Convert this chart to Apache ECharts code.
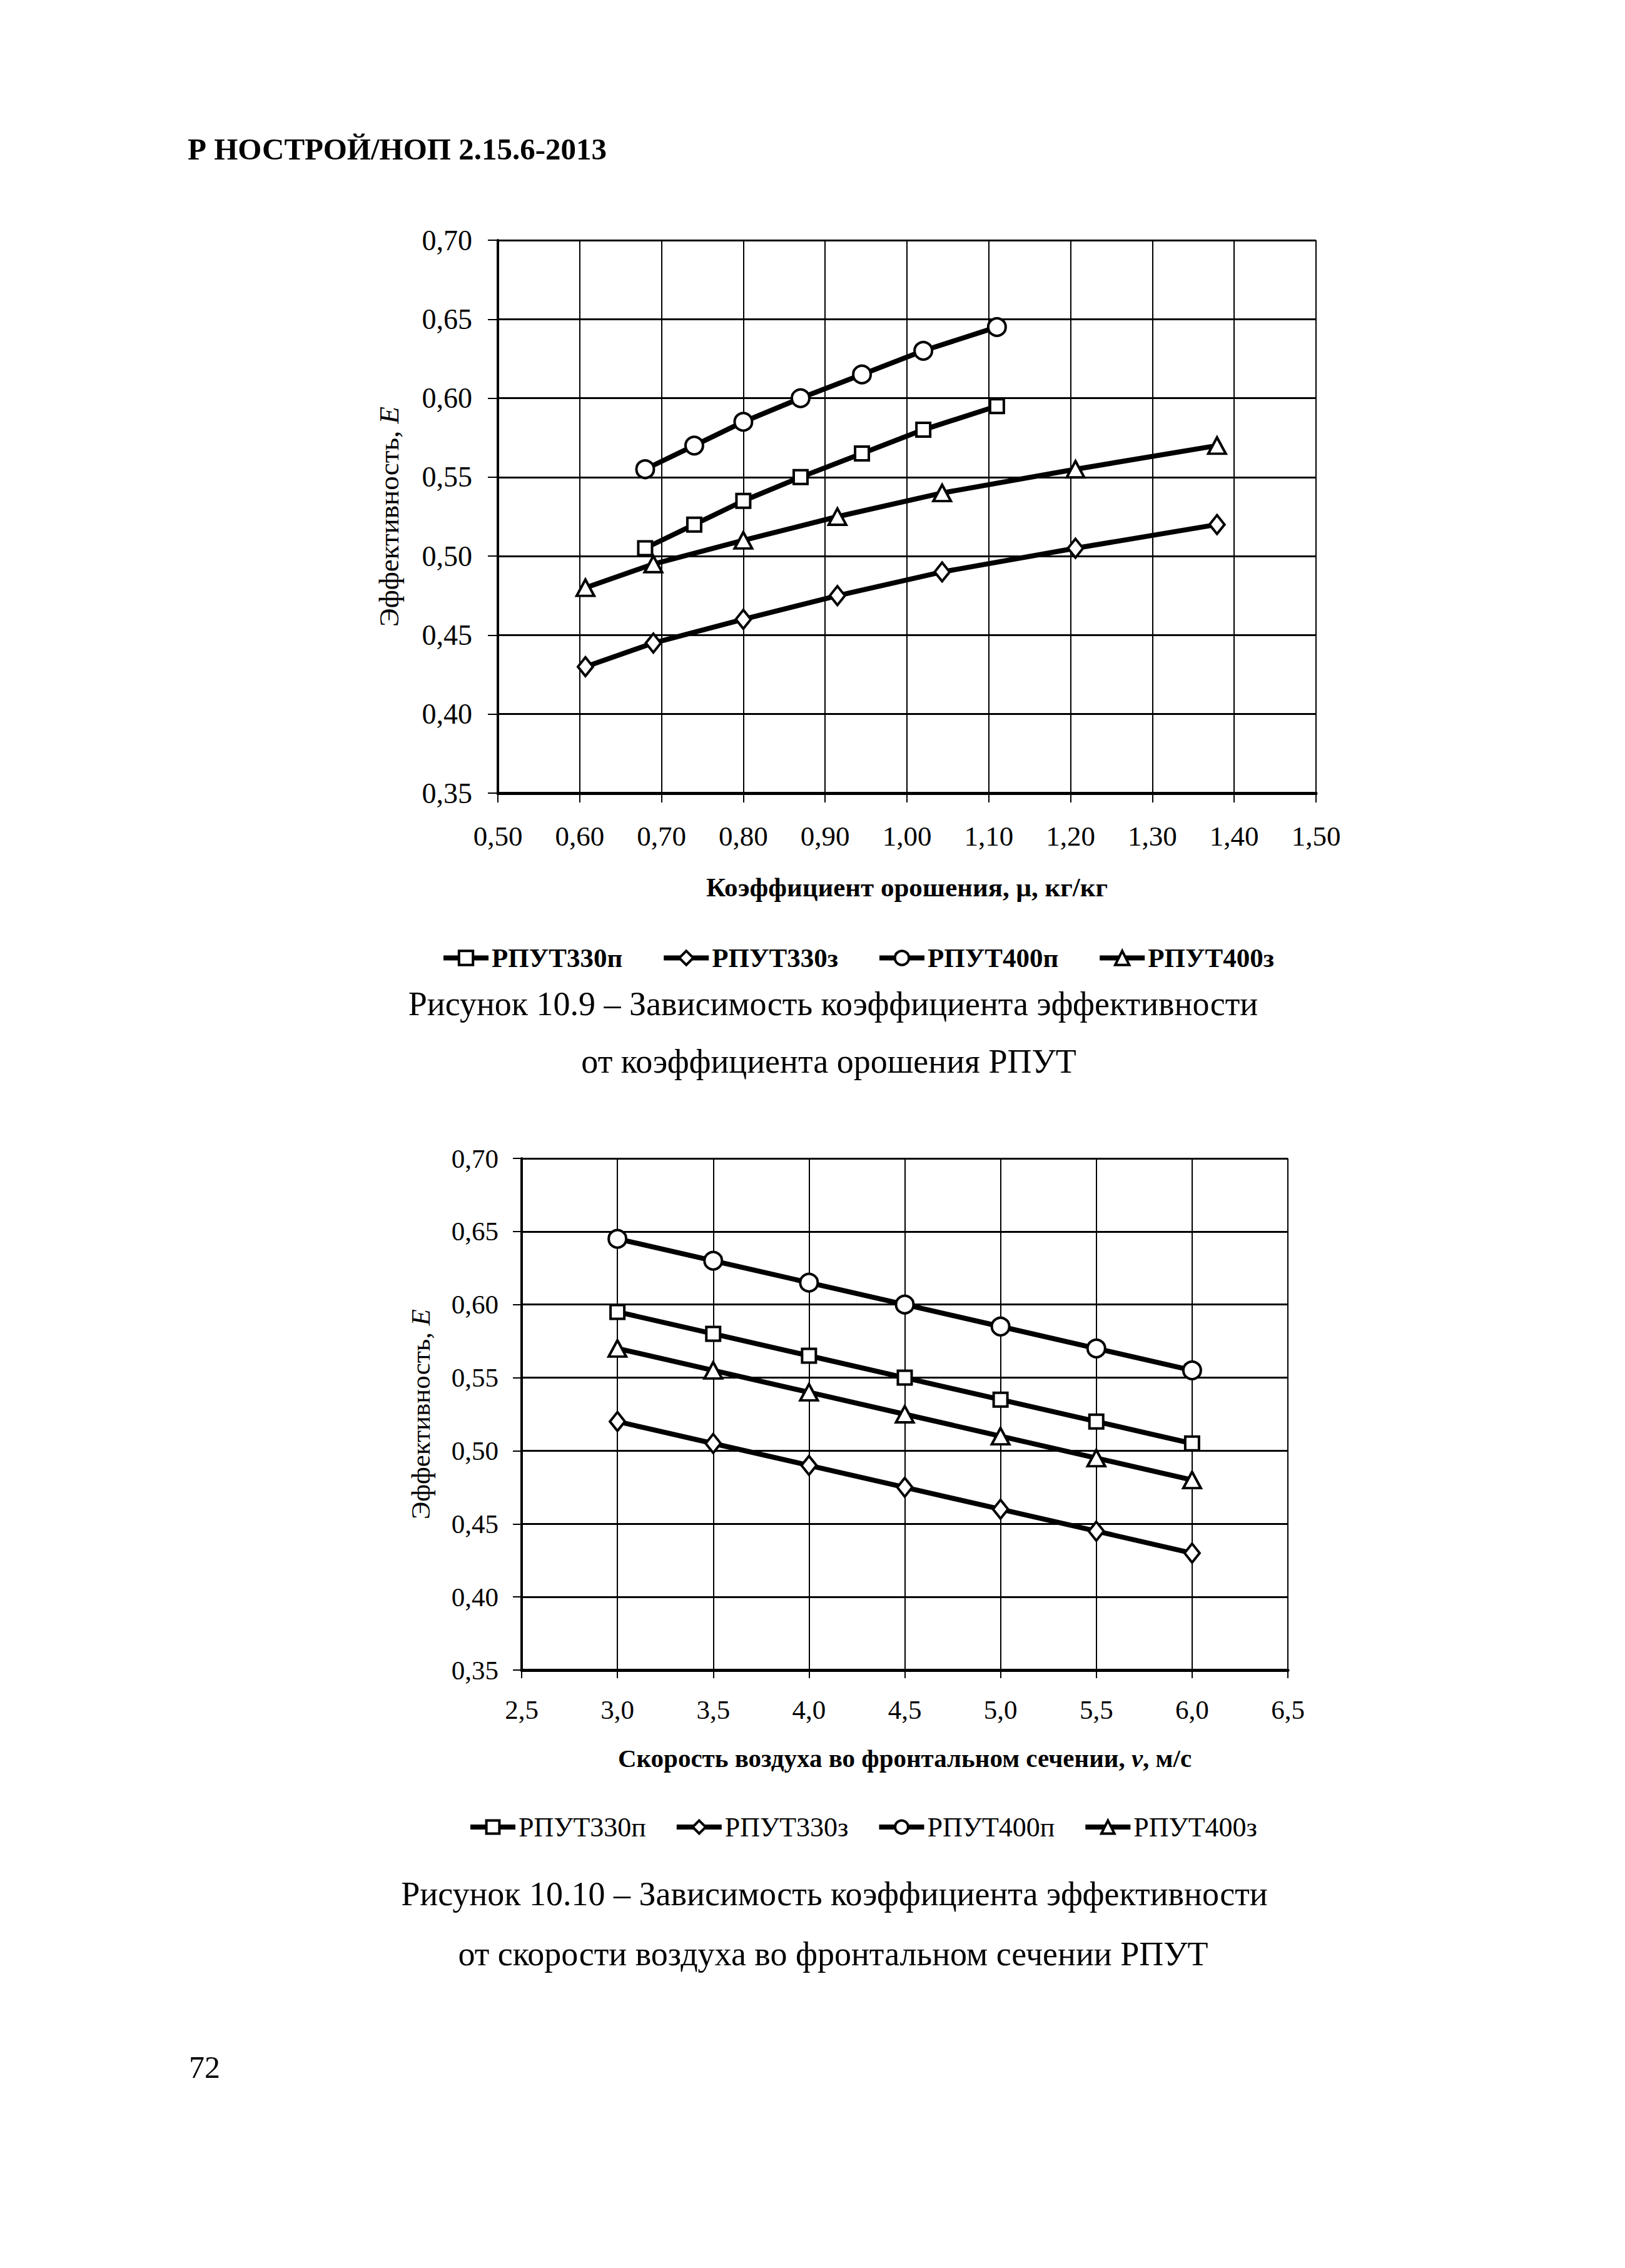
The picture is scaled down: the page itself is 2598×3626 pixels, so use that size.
<!DOCTYPE html>
<html>
<head>
<meta charset="utf-8">
<script src="https://cdn.jsdelivr.net/npm/echarts/dist/echarts.min.js"></script>
<style>
html,body{margin:0;padding:0;background:#fff;}
#c{width:2598px;height:3626px;}
</style>
</head>
<body>
<div id="c"></div>
<script>
// ---------- data ----------
const seriesNames = ['РПУТ330п', 'РПУТ330з', 'РПУТ400п', 'РПУТ400з'];

// Figure 10.9: efficiency vs irrigation coefficient
const muSummer = [0.68, 0.74, 0.80, 0.87, 0.945, 1.02, 1.11];      // for 330п, 400п
const muWinter = [0.607, 0.69, 0.80, 0.915, 1.043, 1.206, 1.379]; // for 330з, 400з
const eff330p_mu = [0.505, 0.52, 0.535, 0.55, 0.565, 0.58, 0.595];
const eff330z_mu = [0.43, 0.445, 0.46, 0.475, 0.49, 0.505, 0.52];
const eff400p_mu = [0.555, 0.57, 0.585, 0.60, 0.615, 0.63, 0.645];
const eff400z_mu = [0.48, 0.495, 0.51, 0.525, 0.54, 0.555, 0.57];

// Figure 10.10: efficiency vs air velocity
const velocity = [3.0, 3.5, 4.0, 4.5, 5.0, 5.5, 6.0];
const eff330p_v = [0.595, 0.58, 0.565, 0.55, 0.535, 0.52, 0.505];
const eff330z_v = [0.52, 0.505, 0.49, 0.475, 0.46, 0.445, 0.43];
const eff400p_v = [0.645, 0.63, 0.615, 0.60, 0.585, 0.57, 0.555];
const eff400z_v = [0.57, 0.555, 0.54, 0.525, 0.51, 0.495, 0.48];

// axis ranges
const muAxis = {min: 0.5, max: 1.5, interval: 0.1};
const vAxis = {min: 2.5, max: 6.5, interval: 0.5};
const effAxis = {min: 0.35, max: 0.70, interval: 0.05};

// texts
const headerText = 'Р НОСТРОЙ/НОП 2.15.6-2013';
const yName = 'Эффективность, {i|E}';
const xName1 = 'Коэффициент орошения, μ, кг/кг';
const xName2 = 'Скорость воздуха во фронтальном сечении, {i|v}, м/с';
const cap1a = 'Рисунок 10.9 – Зависимость коэффициента эффективности';
const cap1b = 'от коэффициента орошения РПУТ';
const cap2a = 'Рисунок 10.10 – Зависимость коэффициента эффективности';
const cap2b = 'от скорости воздуха во фронтальном сечении РПУТ';
const pageNo = '72';

// ---------- chart ----------
const FONT = '"Liberation Serif", "Times New Roman", serif';
const zip = (xs, ys) => xs.map((x, i) => [x, ys[i]]);
const comma = d => v => v.toFixed(d).replace('.', ',');

const symbols = {
  'РПУТ330п': {symbol: 'rect', size: 22},
  'РПУТ330з': {symbol: 'diamond', size: [24, 30]},
  'РПУТ400п': {symbol: 'circle', size: 28},
  'РПУТ400з': {symbol: 'triangle', size: [28, 26]}
};

function mkSeries(name, data, idx) {
  return {
    type: 'line', name: name, data: data,
    xAxisIndex: idx, yAxisIndex: idx,
    symbol: symbols[name].symbol, symbolSize: symbols[name].size,
    showAllSymbol: true,
    lineStyle: {color: '#000', width: 8},
    itemStyle: {color: '#fff', borderColor: '#000', borderWidth: 4},
    emphasis: {disabled: true},
    z: 5
  };
}

function mkX(idx, rng, digits, labelSize, margin, name, nameGap, nameSize, tickLen) {
  return {
    type: 'value', gridIndex: idx, min: rng.min, max: rng.max, interval: rng.interval,
    axisLine: {show: true, onZero: false, lineStyle: {color: '#000', width: 5}},
    axisTick: {show: true, length: tickLen, lineStyle: {color: '#000', width: 2}},
    splitLine: {show: true, lineStyle: {color: '#000', width: 2}},
    axisLabel: {color: '#000', fontFamily: FONT, fontSize: labelSize, margin: margin,
      formatter: comma(digits), showMinLabel: true, showMaxLabel: true},
    name: name, nameLocation: 'middle', nameGap: nameGap,
    nameTextStyle: {color: '#000', fontFamily: FONT, fontSize: nameSize, fontWeight: 'bold',
      rich: {i: {fontFamily: FONT, fontSize: nameSize, fontWeight: 'bold', fontStyle: 'italic', color: '#000'}}}
  };
}

function mkY(idx, labelSize, margin, nameGap, nameSize, tickLen) {
  return {
    type: 'value', gridIndex: idx, min: effAxis.min, max: effAxis.max, interval: effAxis.interval,
    axisLine: {show: true, lineStyle: {color: '#000', width: 4}},
    axisTick: {show: true, length: tickLen, lineStyle: {color: '#000', width: 2}},
    splitLine: {show: true, lineStyle: {color: '#000', width: 3}},
    axisLabel: {color: '#000', fontFamily: FONT, fontSize: labelSize, margin: margin,
      formatter: comma(2), showMinLabel: true, showMaxLabel: true},
    name: yName, nameLocation: 'middle', nameGap: nameGap, nameRotate: 90,
    nameTextStyle: {color: '#000', fontFamily: FONT, fontSize: nameSize,
      rich: {i: {fontFamily: FONT, fontSize: nameSize, fontStyle: 'italic', color: '#000'}}}
  };
}

function txt(text, x, y, size, opts) {
  opts = opts || {};
  const align = opts.align || 'center';
  return {
    type: 'text', x: x, y: y, silent: true,
    style: {
      text: text, fill: '#000', fontFamily: FONT, fontSize: size,
      fontWeight: opts.bold ? 'bold' : 'normal',
      align: align, verticalAlign: 'middle',
      textAlign: align, textVerticalAlign: 'middle'
    }
  };
}

const legendCommon = {
  data: seriesNames, itemWidth: 72, selectedMode: false,
  lineStyle: {width: 8, color: '#000'},
  itemStyle: {color: '#fff', borderColor: '#000', borderWidth: 4}
};

const chart = echarts.init(document.getElementById('c'), null, {renderer: 'svg'});
chart.setOption({
  animation: false,
  backgroundColor: '#fff',
  grid: [
    {left: 796, top: 384, width: 1308, height: 884},
    {left: 834, top: 1852, width: 1225, height: 818}
  ],
  xAxis: [
    mkX(0, muAxis, 2, 45, 46, xName1, 129, 43, 15),
    mkX(1, vAxis, 1, 43, 42, xName2, 120, 41, 13)
  ],
  yAxis: [
    mkY(0, 46, 41, 152, 45, 16),
    mkY(1, 43, 37, 140, 43, 14)
  ],
  legend: [
    Object.assign({}, legendCommon, {left: 700, top: 1505, itemHeight: 28, itemGap: 62,
      textStyle: {color: '#000', fontFamily: FONT, fontSize: 43, fontWeight: 'bold'}}),
    Object.assign({}, legendCommon, {left: 743, top: 2894, itemHeight: 26, itemGap: 45,
      textStyle: {color: '#000', fontFamily: FONT, fontSize: 44}})
  ],
  series: [
    mkSeries('РПУТ330п', zip(muSummer, eff330p_mu), 0),
    mkSeries('РПУТ330з', zip(muWinter, eff330z_mu), 0),
    mkSeries('РПУТ400п', zip(muSummer, eff400p_mu), 0),
    mkSeries('РПУТ400з', zip(muWinter, eff400z_mu), 0),
    mkSeries('РПУТ330п', zip(velocity, eff330p_v), 1),
    mkSeries('РПУТ330з', zip(velocity, eff330z_v), 1),
    mkSeries('РПУТ400п', zip(velocity, eff400p_v), 1),
    mkSeries('РПУТ400з', zip(velocity, eff400z_v), 1)
  ],
  graphic: [
    txt(headerText, 300, 238, 49, {bold: true, align: 'left'}),
    txt(cap1a, 1332, 1605, 54),
    txt(cap1b, 1325, 1697, 54),
    txt(cap2a, 1334, 3028, 54),
    txt(cap2b, 1332, 3124, 54),
    txt(pageNo, 302, 3305, 50, {align: 'left'})
  ]
});
</script>
</body>
</html>
